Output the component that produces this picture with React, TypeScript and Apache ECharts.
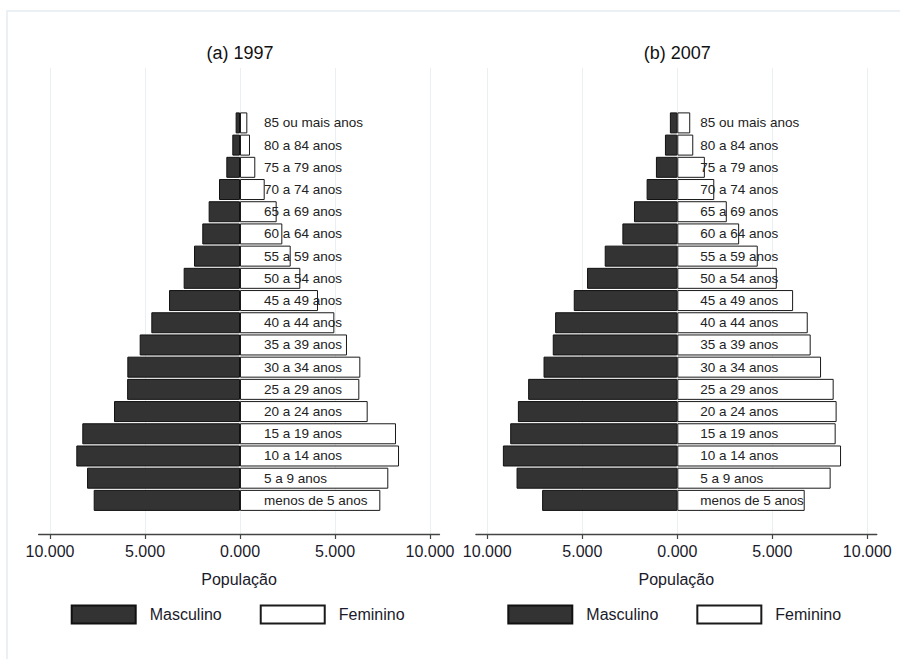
import React, { useEffect, useRef } from "react";
import * as echarts from "echarts";

// Age groups, bottom to top
const ageGroups = [
  "menos de 5 anos", "5 a 9 anos", "10 a 14 anos", "15 a 19 anos", "20 a 24 anos",
  "25 a 29 anos", "30 a 34 anos", "35 a 39 anos", "40 a 44 anos", "45 a 49 anos",
  "50 a 54 anos", "55 a 59 anos", "60 a 64 anos", "65 a 69 anos", "70 a 74 anos",
  "75 a 79 anos", "80 a 84 anos", "85 ou mais anos",
];

const male1997 = [7700, 8050, 8615, 8300, 6630, 5940, 5930, 5280, 4667, 3735, 2965, 2420, 1985, 1650, 1105, 720, 405, 230];
const female1997 = [7385, 7805, 8370, 8210, 6720, 6280, 6333, 5630, 4965, 4105, 3175, 2668, 2227, 1930, 1300, 805, 526, 385];

const male2007 = [7115, 8460, 9180, 8795, 8390, 7850, 7040, 6555, 6430, 5450, 4750, 3820, 2890, 2280, 1615, 1125, 650, 390];
const female2007 = [6705, 8070, 8618, 8335, 8385, 8230, 7565, 7020, 6865, 6095, 5235, 4235, 3255, 2605, 1945, 1450, 840, 680];

const panelTitles = ["(a) 1997", "(b) 2007"];
const tickValues = [-10000, -5000, 0, 5000, 10000];
const tickLabels = ["10.000", "5.000", "0.000", "5.000", "10.000"];
const seriesNames = ["Masculino", "Feminino"];
const axisName = "População";

const FONT = 'Arial, "Liberation Sans", sans-serif';
const GRID_COLOR = "#e9f0f2";

export default function App() {
  const ref = useRef<HTMLDivElement>(null);

  useEffect(() => {
    if (!ref.current) return;
    const chart = echarts.init(ref.current, undefined, { renderer: "svg" });

    const panels = [
      { zero: 240, male: male1997, female: female1997, legendLeft: 70.7, labelDist: 24 },
      { zero: 677.3, male: male2007, female: female2007, legendLeft: 507.3, labelDist: 23 },
    ];
    const pxPer = 19.0 / 1000;
    const minV = -10600;
    const maxV = 10500;

    const grids: any[] = [];
    const xAxes: any[] = [];
    const yAxes: any[] = [];
    const series: any[] = [];
    const titles: any[] = [];
    const legends: any[] = [];

    panels.forEach((p, i) => {
      const leftPx = p.zero + minV * pxPer;
      const rightPx = 900 - (p.zero + maxV * pxPer);
      // axis grid
      grids.push({ left: leftPx, right: rightPx, top: 68, bottom: 659 - 534 });
      // bar grid
      grids.push({ left: leftPx, right: rightPx, top: 111.8, bottom: 659 - 511.5 });
      const gA = grids.length - 2;
      const gB = grids.length - 1;

      xAxes.push({
        type: "value",
        gridIndex: gA,
        min: minV,
        max: maxV,
        axisLine: { show: true, lineStyle: { color: "#444", width: 1.3 } },
        axisTick: {
          show: true,
          length: 5,
          customValues: tickValues,
          lineStyle: { color: "#444", width: 1.2 },
        },
        axisLabel: {
          show: true,
          customValues: tickValues,
          margin: 9,
          color: "#1a1a2a",
          fontSize: 16,
          fontFamily: FONT,
          formatter: (v: number) => {
            const idx = tickValues.indexOf(v);
            return idx >= 0 ? tickLabels[idx] : "";
          },
        },
        splitLine: { show: true, lineStyle: { color: GRID_COLOR, width: 1 } },
        name: axisName,
        nameLocation: "middle",
        nameGap: 37,
        nameTextStyle: { color: "#1a1a2a", fontSize: 16, fontFamily: FONT },
      });
      xAxes.push({
        type: "value",
        gridIndex: gB,
        min: minV,
        max: maxV,
        show: false,
      });
      yAxes.push({ type: "value", gridIndex: gA, show: false });
      yAxes.push({
        type: "category",
        gridIndex: gB,
        data: ageGroups,
        show: false,
        boundaryGap: true,
      });

      const xi = xAxes.length - 1;
      const yi = yAxes.length - 1;

      series.push({
        type: "bar",
        name: seriesNames[0],
        xAxisIndex: xi,
        yAxisIndex: yi,
        barWidth: 21,
        barGap: "-100%",
        data: p.male.map((v) => -v),
        itemStyle: { color: "#333333", borderColor: "#111", borderWidth: 1 },
      });
      series.push({
        type: "bar",
        name: seriesNames[1],
        xAxisIndex: xi,
        yAxisIndex: yi,
        barWidth: 21,
        barGap: "-100%",
        data: p.female,
        itemStyle: { color: "#ffffff", borderColor: "#1a1a1a", borderWidth: 1 },
        label: {
          show: true,
          position: "insideLeft",
          distance: p.labelDist,
          color: "#222",
          fontSize: 13.5,
          fontFamily: FONT,
          formatter: (prm: any) => ageGroups[prm.dataIndex],
        },
      });

      titles.push({
        text: panelTitles[i],
        left: p.zero,
        textAlign: "center",
        top: 44,
        padding: 0,
        textStyle: { color: "#111", fontSize: 18, fontWeight: "normal", fontFamily: FONT },
      });

      legends.push({
        data: seriesNames,
        left: p.legendLeft,
        top: 604.5,
        padding: 0,
        orient: "horizontal",
        icon: "rect",
        itemWidth: 64,
        itemHeight: 18,
        itemGap: 38,
        selectedMode: false,
        textStyle: {
          color: "#1a1a2a",
          fontSize: 16,
          fontFamily: FONT,
          padding: [0, 0, 0, 9],
        },
      });
    });

    chart.setOption({
      animation: false,
      backgroundColor: "#ffffff",
      title: titles,
      legend: legends,
      grid: grids,
      xAxis: xAxes,
      yAxis: yAxes,
      series,
      graphic: [
        {
          type: "rect",
          shape: { x: 7, y: 11, width: 950, height: 700 },
          style: { fill: "none", stroke: "#e3ecef", lineWidth: 1.5 },
          silent: true,
          z: -10,
        },
      ],
    });

    return () => chart.dispose();
  }, []);

  return (
    <div
      ref={ref}
      style={{ position: "fixed", left: 0, top: 0, width: 900, height: 659 }}
    />
  );
}
